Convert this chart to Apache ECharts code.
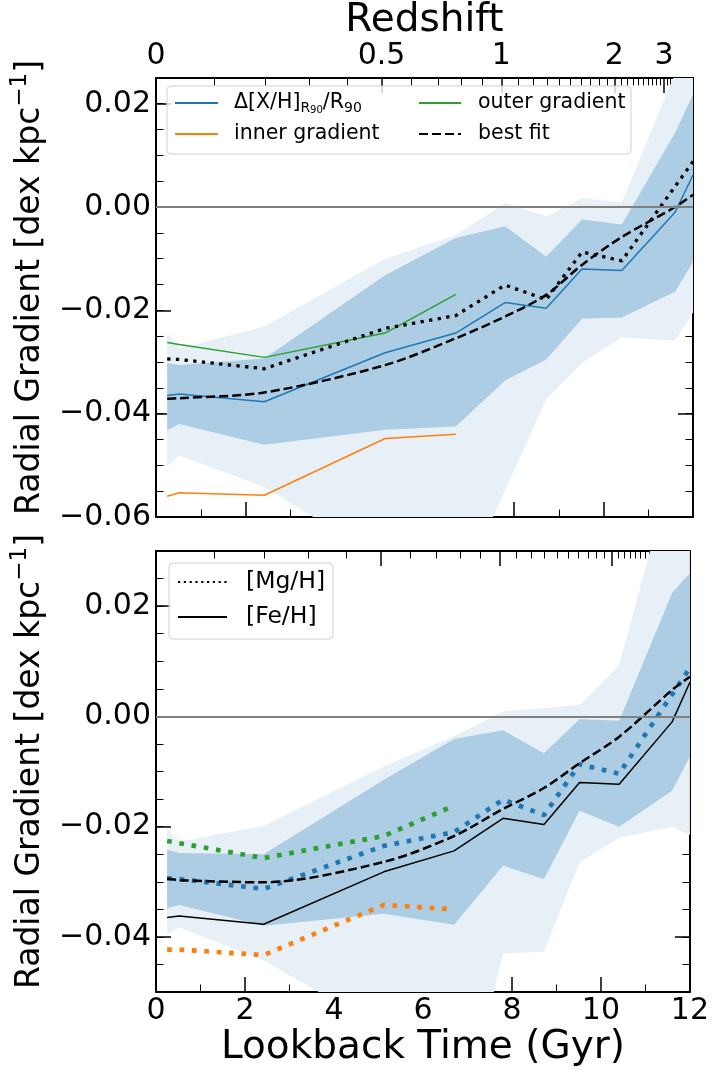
<!DOCTYPE html>
<html><head><meta charset="utf-8">
<script src="https://cdn.jsdelivr.net/npm/echarts@6/dist/echarts.min.js"></script>
<style>html,body{margin:0;padding:0;background:#fff}#c{width:712px;height:1074px}</style>
</head><body><div id="c"></div>
<script>
// ---------- data ----------
const lookbackGyr = [0.25, 0.52, 2.42, 5.12, 6.70, 7.80, 8.72, 9.52, 10.41, 11.60, 12.0];
const lookbackInnerOuter = [0.25, 0.52, 2.42, 5.12, 6.70];

// total gradients
const feTotal = [-0.0365, -0.0362, -0.0377, -0.0282, -0.0244, -0.0185, -0.0196, -0.0120, -0.0123, -0.0010, 0.0062];
const mgTotal = [-0.0294, -0.0295, -0.0313, -0.0235, -0.0210, -0.0151, -0.0179, -0.0087, -0.0104, 0.0040, 0.0088];
const bestFitTop = [-0.0371, -0.0370, -0.0359, -0.0306, -0.0254, -0.0212, -0.0170, -0.0112, -0.0058, 0.0000, 0.0024];
const bestFitBottom = [-0.0294, -0.0297, -0.0301, -0.0264, -0.0217, -0.0168, -0.0130, -0.0085, -0.0037, 0.0048, 0.0072];

// inner / outer gradients
const feInner = [-0.0560, -0.0553, -0.0558, -0.0448, -0.0440];
const feOuter = [-0.0262, -0.0266, -0.0291, -0.0244, -0.0169];
const mgInner = [-0.0423, -0.0423, -0.0433, -0.0342, -0.0350];
const mgOuter = [-0.0226, -0.0230, -0.0257, -0.0217, -0.0162];

// scatter bands, top panel
const topDarkUpper  = [-0.0302, -0.0306, -0.0293, -0.0132, -0.0060, -0.0037, -0.0096, -0.0024, -0.0034, 0.0144, 0.0218];
const topDarkLower  = [-0.0432, -0.0420, -0.0460, -0.0431, -0.0425, -0.0336, -0.0295, -0.0216, -0.0214, -0.0164, -0.0106];
const topLightUpper = [-0.0244, -0.0274, -0.0231, -0.0100, -0.0054, 0.0008, -0.0018, 0.0017, 0.0009, 0.0259, 0.0400];
const topLightLower = [-0.0502, -0.0481, -0.0542, -0.0685, -0.0760, -0.0548, -0.0372, -0.0302, -0.0252, -0.0259, -0.0204];
// scatter bands, bottom panel
const botDarkUpper  = [-0.0242, -0.0248, -0.0250, -0.0115, -0.0041, -0.0025, -0.0067, -0.0005, -0.0008, 0.0224, 0.0260];
const botDarkLower  = [-0.0348, -0.0342, -0.0380, -0.0358, -0.0378, -0.0271, -0.0295, -0.0171, -0.0200, -0.0135, -0.0073];
const botLightUpper = [-0.0203, -0.0227, -0.0199, -0.0091, -0.0036, 0.0009, 0.0015, 0.0021, 0.0093, 0.0447, 0.0550];
const botLightLower = [-0.0395, -0.0383, -0.0443, -0.0567, -0.0800, -0.0430, -0.0427, -0.0264, -0.0220, -0.0200, -0.0215];

// ticks
const yTicksTop = [-0.06, -0.04, -0.02, 0.00, 0.02];
const yTicksBottom = [-0.04, -0.02, 0.00, 0.02];
const redshiftMajor = [0, 0.5, 1, 2, 3];
const redshiftMajorLabels = ['0', '0.5', '1', '2', '3'];
const zeroLevel = 0;

// ---------- helpers ----------
const FONT = 'DejaVu Sans';
// lookback time (Gyr) for redshift z, flat LCDM H0=70, Om=0.3 (secondary-axis transform)
function lookbackFromZ(z) {
  const H0 = 70, Om = 0.3, OL = 0.7, tH = 977.8 / H0, n = 400, h = z / n;
  const f = x => 1 / ((1 + x) * Math.sqrt(Om * Math.pow(1 + x, 3) + OL));
  let s = 0;
  for (let i = 0; i <= n; i++) { const w = (i === 0 || i === n) ? 1 : (i % 2 ? 4 : 2); s += w * f(i * h); }
  return tH * s * h / 3;
}
const zMajorT = redshiftMajor.map(lookbackFromZ);
const zMinorT = [];
for (let k = 1; k <= 60; k++) {
  const z = k / 10;
  if (redshiftMajor.some(m => Math.abs(m - z) < 1e-9)) continue;
  const t = lookbackFromZ(z);
  if (t < 12) zMinorT.push(t);
}
const pairs = (xs, ys) => ys.map((y, i) => [xs[i], y]);
const fmtY = v => Math.abs(v) < 1e-9 ? '0.00' : v.toFixed(2).replace('-', '\u2212');

const LIGHT = '#e8f0f7', DARK = '#accde3';
const BLUE = '#1f77b4', ORANGE = '#ff7f0e', GREEN = '#2ca02c';

const grids = [
  { left: 156, top: 75, width: 537, height: 442 },
  { left: 156, top: 551, width: 537, height: 441 }
];
const yRange = [[-0.06, 0.025], [-0.05, 0.03]];
const yMajors = [yTicksTop, yTicksBottom];

const axisLineStyle = { show: true, onZero: false, lineStyle: { color: '#000', width: 2 } };
const yTitleStyle = {
  fontFamily: FONT, fontSize: 33, color: '#000', padding: [0, 0, 0, 20],
  rich: {
    a: { fontFamily: FONT, fontSize: 33, lineHeight: 38, verticalAlign: 'bottom', color: '#000' },
    s: { fontFamily: FONT, fontSize: 23, lineHeight: 25, verticalAlign: 'top', color: '#000' }
  }
};
const yTitle = '{a|Radial Gradient [dex kpc}{s|\u22121}{a|]}';

const xAxes = [], yAxes = [];
[0, 1].forEach(gi => {
  // bottom lookback-time axis
  xAxes.push({
    gridIndex: gi, type: 'value', min: 0, max: 12, interval: 2, position: 'bottom',
    axisLine: axisLineStyle,
    axisTick: { show: true, inside: true, length: 15, lineStyle: { color: '#000', width: 1.5 } },
    minorTick: { show: true, splitNumber: 2, length: 7.5, lineStyle: { color: '#000', width: 1 } },
    splitLine: { show: false }, minorSplitLine: { show: false },
    axisLabel: { show: gi === 1, fontFamily: FONT, fontSize: 30, color: '#000', margin: 4 },
    name: gi === 1 ? 'Lookback Time (Gyr)' : '', nameLocation: 'middle', nameGap: 36,
    nameTextStyle: { fontFamily: FONT, fontSize: 39, color: '#000' }
  });
  // top redshift axis, major ticks
  xAxes.push({
    gridIndex: gi, type: 'value', min: 0, max: 12, position: 'top',
    axisLine: axisLineStyle,
    axisTick: { show: true, inside: true, length: 15, customValues: zMajorT, lineStyle: { color: '#000', width: 1.5 } },
    splitLine: { show: false },
    axisLabel: {
      show: gi === 0, customValues: zMajorT, fontFamily: FONT, fontSize: 30, color: '#000', margin: 7,
      formatter: v => { let bi = 0; zMajorT.forEach((t, i) => { if (Math.abs(t - v) < Math.abs(zMajorT[bi] - v)) bi = i; }); return redshiftMajorLabels[bi]; }
    },
    name: gi === 0 ? 'Redshift' : '', nameLocation: 'middle', nameGap: 35,
    nameTextStyle: { fontFamily: FONT, fontSize: 39, color: '#000' }
  });
  // top redshift axis, minor ticks
  xAxes.push({
    gridIndex: gi, type: 'value', min: 0, max: 12, position: 'top',
    axisLine: { show: false, onZero: false },
    axisTick: { show: true, inside: true, length: 7.5, customValues: zMinorT, lineStyle: { color: '#000', width: 1 } },
    splitLine: { show: false }, axisLabel: { show: false }
  });
  ['left', 'right'].forEach(pos => {
    yAxes.push({
      gridIndex: gi, type: 'value', min: yRange[gi][0], max: yRange[gi][1], position: pos,
      axisLine: axisLineStyle,
      axisTick: { show: true, inside: true, length: 15, customValues: yMajors[gi], lineStyle: { color: '#000', width: 1.5 } },
      splitLine: { show: false },
      axisLabel: { show: pos === 'left', customValues: yMajors[gi], formatter: fmtY, fontFamily: FONT, fontSize: 30, color: '#000', margin: 5 },
      name: pos === 'left' ? yTitle : '', nameLocation: 'middle', nameGap: 109, nameRotate: 90,
      nameTextStyle: yTitleStyle
    });
    yAxes.push({
      gridIndex: gi, type: 'value', min: yRange[gi][0], max: yRange[gi][1], interval: 0.005, position: pos,
      axisLine: { show: false, onZero: false },
      axisTick: { show: true, inside: true, length: 7.5, lineStyle: { color: '#000', width: 1 } },
      splitLine: { show: false }, axisLabel: { show: false }
    });
  });
});
// axis indices: grid0 -> x 0, y 0 ; grid1 -> x 3, y 4
const AX = [{ x: 0, y: 0 }, { x: 3, y: 4 }];

function band(gi, lower, upper, color) {
  const rows = lookbackGyr.map((t, i) => [t, lower[i], upper[i]]);
  return {
    type: 'custom', xAxisIndex: AX[gi].x, yAxisIndex: AX[gi].y, data: rows, silent: true, clip: true,
    encode: { x: 0, y: [1, 2] },
    renderItem: (params, api) => {
      if (params.dataIndex !== 0) return null;
      const up = rows.map(r => api.coord([r[0], r[2]]));
      const lo = rows.map(r => api.coord([r[0], r[1]])).reverse();
      const cs = params.coordSys;
      return {
        type: 'polygon', shape: { points: up.concat(lo) }, style: { fill: color },
        clipPath: { type: 'rect', shape: { x: cs.x, y: cs.y, width: cs.width, height: cs.height } }
      };
    }
  };
}
function line(gi, name, xs, ys, color, width, type, smooth) {
  return { type: 'line', name: name, xAxisIndex: AX[gi].x, yAxisIndex: AX[gi].y, data: pairs(xs, ys),
    symbol: 'none', smooth: smooth || false, silent: true,
    lineStyle: { color: color, width: width, type: type || 'solid', cap: 'butt' }, itemStyle: { color: color } };
}
function zeroLine(gi) {
  return { type: 'line', name: 'zero' + gi, xAxisIndex: AX[gi].x, yAxisIndex: AX[gi].y, data: [], symbol: 'none', silent: true,
    markLine: { silent: true, symbol: 'none', label: { show: false }, animation: false,
      lineStyle: { color: '#808080', width: 2, type: 'solid' }, data: [{ yAxis: zeroLevel }] } };
}

const series = [
  band(0, topLightLower, topLightUpper, LIGHT),
  band(0, topDarkLower, topDarkUpper, DARK),
  zeroLine(0),
  line(0, 'dXH', lookbackGyr, feTotal, BLUE, 1.5),
  line(0, 'inner gradient', lookbackInnerOuter, feInner, ORANGE, 1.5),
  line(0, 'outer gradient', lookbackInnerOuter, feOuter, GREEN, 1.5),
  line(0, 'mg total top', lookbackGyr, mgTotal, '#000', 3.3, [3.3, 5.4]),
  line(0, 'best fit', lookbackGyr, bestFitTop, '#000', 2.5, [9, 4], 0.3),
  band(1, botLightLower, botLightUpper, LIGHT),
  band(1, botDarkLower, botDarkUpper, DARK),
  zeroLine(1),
  line(1, 'fe total bottom', lookbackGyr, feTotal, '#000', 1.5),
  line(1, 'mg total bottom', lookbackGyr, mgTotal, BLUE, 4.7, [4.7, 7.7]),
  line(1, 'mg outer', lookbackInnerOuter, mgOuter, GREEN, 4.7, [4.7, 7.7]),
  line(1, 'mg inner', lookbackInnerOuter, mgInner, ORANGE, 4.7, [4.7, 7.7]),
  line(1, 'best fit bottom', lookbackGyr, bestFitBottom, '#000', 2.5, [9, 4], 0.3),
  line(1, '[Mg/H]', [], [], '#000', 2.2, [2.2, 3.6]),
  line(1, '[Fe/H]', [], [], '#000', 2.5)
];

const legRich = {
  m: { fontFamily: FONT, fontSize: 20.5, lineHeight: 24, color: '#000' },
  s: { fontFamily: FONT, fontSize: 14, lineHeight: 14, verticalAlign: 'bottom', color: '#000' },
  ss: { fontFamily: FONT, fontSize: 10, lineHeight: 9, verticalAlign: 'bottom', color: '#000' }
};
function leg(name, left, centerY, w, h, fs, pad) {
  return {
    data: [name], left: left, top: centerY - h / 2, padding: 0, itemWidth: w, itemHeight: h, selectedMode: false,
    itemStyle: { color: 'rgba(0,0,0,0)', borderWidth: 0, opacity: 0 },
    textStyle: { fontFamily: FONT, fontSize: fs, lineHeight: h, color: '#000', padding: [0, 0, 0, pad], rich: legRich },
    formatter: n => n === 'dXH' ? '{m|\u0394[X/H]}{s|R}{ss|90}{m|/R}{s|90}' : n
  };
}

const option = {
  animation: false,
  backgroundColor: '#fff',
  grid: grids,
  xAxis: xAxes,
  yAxis: yAxes,
  legend: [
    leg('dXH', 174, 103, 43, 24, 20.5, 11),
    leg('inner gradient', 174, 134, 43, 24, 20.5, 11),
    leg('outer gradient', 418, 103, 42, 24, 20.5, 12),
    leg('best fit', 418, 134, 42, 24, 20.5, 12),
    leg('[Mg/H]', 177, 582, 49, 28, 23.5, 14),
    leg('[Fe/H]', 177, 617, 49, 28, 23.5, 14)
  ],
  graphic: [
    { type: 'rect', z: 3, shape: { x: 167, y: 86, width: 464, height: 68, r: 4 },
      style: { fill: 'rgba(255,255,255,0.8)', stroke: '#d0d0d0', lineWidth: 1 } },
    { type: 'rect', z: 3, shape: { x: 169, y: 563, width: 164, height: 76, r: 4 },
      style: { fill: 'rgba(255,255,255,0.8)', stroke: '#d0d0d0', lineWidth: 1 } }
  ],
  series: series
};
const chart = echarts.init(document.getElementById('c'), null, { renderer: 'canvas' });
chart.setOption(option);
</script>
</body></html>
